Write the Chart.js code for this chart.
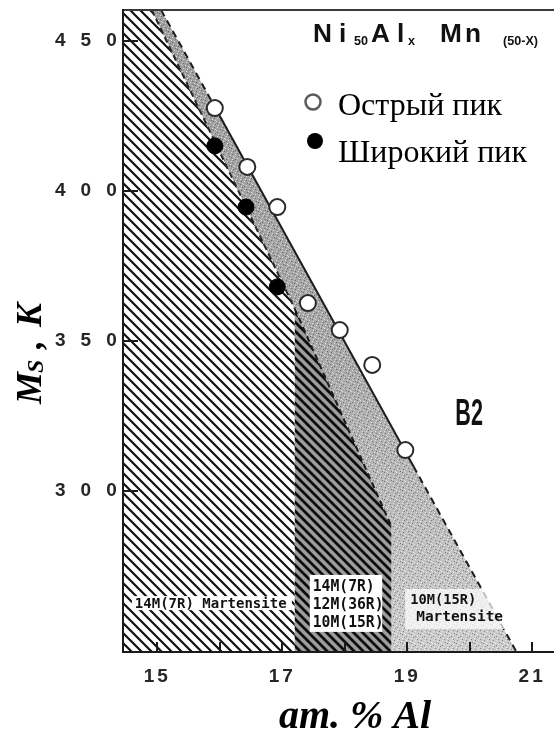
<!DOCTYPE html>
<html>
<head>
<meta charset="utf-8">
<script src="https://cdn.jsdelivr.net/npm/chart.js@4.4.1/dist/chart.umd.min.js"></script>
<style>
  html, body { margin: 0; padding: 0; background: #ffffff; overflow: hidden; }
  canvas { display: block; }
</style>
</head>
<body>
<canvas id="chart" width="554" height="742" style="width:554px;height:742px"></canvas>
<script>
// Martensitic start temperature Ms of Ni50AlxMn(50-x) versus Al content (at. %)

// measured Ms points
const sharpPeak = [
  { x: 15.92, y: 427.6 }, { x: 16.44, y: 408.0 }, { x: 16.92, y: 394.6 },
  { x: 17.41, y: 362.6 }, { x: 17.92, y: 353.6 }, { x: 18.44, y: 342.0 },
  { x: 18.97, y: 313.6 }
];
const broadPeak = [
  { x: 15.92, y: 415.0 }, { x: 16.42, y: 394.6 }, { x: 16.92, y: 368.0 }
];

// phase boundaries
const b2Boundary = [ { x: 15.06, y: 460.3 }, { x: 16.0, y: 425.0 }, { x: 19.1, y: 308.2 }, { x: 20.75, y: 246.3 } ];
const boundary14M = [ { x: 14.91, y: 460.3 }, { x: 17.2, y: 360.7 } ];
const boundaryMixed = [ { x: 17.2, y: 360.7 }, { x: 18.75, y: 288.0 } ];

// phase fields (closed outlines)
const region14M = [
  { x: 14.45, y: 460.3 }, { x: 14.91, y: 460.3 }, { x: 17.2, y: 360.7 },
  { x: 17.2, y: 246.3 }, { x: 14.45, y: 246.3 }, { x: 14.45, y: 460.3 }
];
const regionMixed = [
  { x: 17.2, y: 360.7 }, { x: 18.75, y: 288.0 }, { x: 18.75, y: 246.3 },
  { x: 17.2, y: 246.3 }, { x: 17.2, y: 360.7 }
];
const region10M = [
  { x: 14.91, y: 460.3 }, { x: 15.06, y: 460.3 }, { x: 16.0, y: 425.0 }, { x: 19.1, y: 308.2 },
  { x: 20.75, y: 246.3 }, { x: 18.75, y: 246.3 }, { x: 18.75, y: 288.0 }, { x: 17.2, y: 360.7 },
  { x: 14.91, y: 460.3 }
];

// axes
const xRange = [14.45, 21.35];
const yRange = [246.3, 460.3];
const xTickValues = [15, 16, 17, 18, 19, 20, 21];
const xLabelValues = [15, 17, 19, 21];
const yTickValues = [300, 350, 400, 450];

const canvas = document.getElementById('chart');
const ctx = canvas.getContext('2d');

function hatch(bg, fg, step, width) {
  const c = document.createElement('canvas');
  c.width = step; c.height = step;
  const g = c.getContext('2d');
  if (bg) { g.fillStyle = bg; g.fillRect(0, 0, step, step); }
  g.strokeStyle = fg; g.lineWidth = width; g.lineCap = 'square';
  g.beginPath();
  for (const o of [-step, 0, step]) { g.moveTo(o - 1, -1); g.lineTo(o + step + 1, step + 1); }
  g.stroke();
  return ctx.createPattern(c, 'repeat');
}

function stipple() {
  const c = document.createElement('canvas');
  c.width = 9; c.height = 9;
  const g = c.getContext('2d');
  g.fillStyle = 'rgba(255,255,255,0.6)';
  [[1, 1], [5, 2], [3, 5], [7, 6], [0, 4], [6, 8], [8, 3], [2, 8]].forEach(([px, py]) => g.fillRect(px, py, 1, 1));
  g.fillStyle = 'rgba(30,30,30,0.4)';
  [[3, 0], [6, 4], [1, 6], [4, 3], [8, 7], [7, 1]].forEach(([px, py]) => g.fillRect(px, py, 1, 1));
  return ctx.createPattern(c, 'repeat');
}

const sparseHatch = hatch('#ffffff', '#111111', 10, 2.2);
const denseHatch = hatch('#9c9c9c', '#0d0d0d', 9, 2.8);
const grain = stipple();

function grayShade(context) {
  const area = context.chart.chartArea;
  if (!area) return '#b0b0b0';
  const g = context.chart.ctx.createLinearGradient(0, area.top, 0, area.bottom);
  g.addColorStop(0, '#9e9e9e');
  g.addColorStop(0.55, '#a9a9a9');
  g.addColorStop(0.8, '#bdbdbd');
  g.addColorStop(1, '#cdcdcd');
  return g;
}

const field = (data, bg, order) => ({
  type: 'line', data, fill: 'shape', backgroundColor: bg,
  borderColor: 'rgba(0,0,0,0)', borderWidth: 0, pointRadius: 0, tension: 0, order
});

const serif = '"Liberation Serif", "Times New Roman", serif';
const sans = '"Liberation Sans", Arial, sans-serif';
const mono = '"DejaVu Sans Mono", "Liberation Mono", monospace';

function condensed(c, text, px, py, font, sx) {
  c.save();
  c.font = font;
  c.translate(px, py);
  c.scale(sx, 1);
  c.textAlign = 'left';
  c.textBaseline = 'alphabetic';
  c.fillText(text, 0, 0);
  c.restore();
}

const decor = {
  id: 'decor',
  beforeDraw(chart) {
    chart.ctx.letterSpacing = '3px';
  },
  afterDatasetsDraw(chart) {
    const c = chart.ctx;
    const a = chart.chartArea;
    const sx = chart.scales.x, sy = chart.scales.y;
    c.save();
    c.letterSpacing = '0px';

    // top frame
    c.strokeStyle = '#3a3a3a';
    c.lineWidth = 2;
    c.beginPath(); c.moveTo(a.left, a.top); c.lineTo(a.right, a.top); c.stroke();

    // inward tick marks
    c.strokeStyle = '#1a1a1a';
    c.lineWidth = 2;
    c.beginPath();
    xTickValues.forEach(v => { const p = Math.round(sx.getPixelForValue(v)); c.moveTo(p, a.bottom); c.lineTo(p, a.bottom - 10); });
    yTickValues.forEach(v => { const p = Math.round(sy.getPixelForValue(v)); c.moveTo(a.left, p); c.lineTo(a.left + 15, p); });
    c.stroke();

    // phase field labels
    c.fillStyle = '#ffffff';
    let lx = sx.getPixelForValue(14.64), ly = sy.getPixelForValue(262.6);
    c.fillRect(lx - 3, ly - 7, 160, 14);
    c.fillStyle = '#111111';
    condensed(c, '14M(7R) Martensite', lx, ly + 5, 'bold 14px ' + mono, 1.0);

    const bx0 = sx.getPixelForValue(17.44), bx1 = sx.getPixelForValue(18.6);
    const by0 = sy.getPixelForValue(272.0), by1 = sy.getPixelForValue(253.0);
    c.fillStyle = '#ffffff';
    c.fillRect(bx0, by0, bx1 - bx0, by1 - by0);
    c.fillStyle = '#111111';
    ['14M(7R)', '12M(36R)', '10M(15R)'].forEach((t, i) => {
      condensed(c, t, bx0 + 3, by0 + 16 + i * 18, 'bold 15px ' + mono, 0.98);
    });

    const rx = sx.getPixelForValue(19.0), ry = sy.getPixelForValue(267.3);
    c.fillStyle = 'rgba(255,255,255,0.72)';
    c.fillRect(rx - 2, ry, 106, 40);
    c.fillStyle = '#111111';
    condensed(c, '10M(15R)', rx + 3, ry + 15, 'bold 14px ' + mono, 0.98);
    condensed(c, 'Martensite', rx + 9, ry + 32, 'bold 14px ' + mono, 1.03);

    condensed(c, 'B2', sx.getPixelForValue(19.77), sy.getPixelForValue(322.0), 'bold 36px ' + sans, 0.6);

    // composition title
    const big = 'bold 25px ' + sans, small = 'bold 12px ' + sans;
    [['N', 313, big, 42], ['i', 339, big, 42], ['50', 354, small, 45], ['A', 371, big, 42],
     ['l', 397, big, 42], ['x', 408, small, 45], ['M', 440, big, 42], ['n', 465, big, 42],
     ['(50-X)', 503, small, 45]].forEach(([t, px, f, py]) => condensed(c, t, px, py, f, 1.05));

    // legend
    const sharp = chart.data.datasets[0], broad = chart.data.datasets[1];
    c.beginPath(); c.arc(313, 102, 7.5, 0, Math.PI * 2);
    c.fillStyle = sharp.pointBackgroundColor; c.fill();
    c.lineWidth = 2.5; c.strokeStyle = '#5a5a5a'; c.stroke();
    c.beginPath(); c.arc(315, 141, 8, 0, Math.PI * 2);
    c.fillStyle = broad.pointBackgroundColor; c.fill();
    c.fillStyle = '#000000';
    c.font = '32px ' + serif;
    c.textAlign = 'left'; c.textBaseline = 'alphabetic';
    c.fillText(sharp.label, 338, 115);
    c.fillText(broad.label, 338, 162);

    c.restore();
    // spaced digits on the temperature axis
    c.letterSpacing = '15px';
  },
  afterDraw(chart) {
    const c = chart.ctx;
    c.letterSpacing = '0px';
    c.save();
    c.fillStyle = '#000000';
    c.textBaseline = 'alphabetic';
    c.textAlign = 'left';
    // x axis title
    c.font = 'italic bold 40px ' + serif;
    const xt = 'am. % Al';
    const w = c.measureText(xt).width;
    c.fillText(xt, 355 - w / 2, 728);
    // y axis title (rotated)
    c.translate(41, 0);
    c.rotate(-Math.PI / 2);
    c.font = 'italic bold 36px ' + serif;
    c.fillText('M', -404, 0);
    c.font = 'italic bold 24px ' + serif;
    c.fillText('S', -373, 2);
    c.font = 'italic bold 36px ' + serif;
    c.fillText(',', -349, 0);
    c.fillText('K', -327, 0);
    c.restore();
  }
};

new Chart(ctx, {
  type: 'scatter',
  data: {
    datasets: [
      {
        type: 'scatter', label: 'Острый пик', data: sharpPeak, order: 0,
        pointRadius: 8, pointBackgroundColor: '#ffffff', pointBorderColor: '#2a2a2a', pointBorderWidth: 2
      },
      {
        type: 'scatter', label: 'Широкий пик', data: broadPeak, order: 0,
        pointRadius: 8, pointBackgroundColor: '#000000', pointBorderColor: '#000000', pointBorderWidth: 1
      },
      {
        type: 'line', data: b2Boundary, order: 1, fill: false, pointRadius: 0,
        borderColor: '#1c1c1c', borderWidth: 2,
        segment: { borderDash: s => (s.p0DataIndex === 1 ? [] : [7, 5]) }
      },
      {
        type: 'line', data: boundary14M, order: 1, fill: false, pointRadius: 0,
        borderColor: '#262626', borderWidth: 2, borderDash: [6, 4]
      },
      {
        type: 'line', data: boundaryMixed, order: 1, fill: false, pointRadius: 0,
        borderColor: '#1a1a1a', borderWidth: 2, borderDash: [6, 4]
      },
      field(region10M, grain, 2),
      field(region10M, grayShade, 3),
      field(regionMixed, denseHatch, 4),
      field(region14M, sparseHatch, 5)
    ]
  },
  options: {
    responsive: false,
    animation: false,
    events: [],
    layout: { autoPadding: false, padding: { top: 10, left: 55, right: 0, bottom: 0 } },
    plugins: { legend: { display: false }, tooltip: { enabled: false }, title: { display: false } },
    scales: {
      x: {
        type: 'linear', position: 'bottom', min: xRange[0], max: xRange[1],
        afterBuildTicks: s => { s.ticks = xTickValues.map(v => ({ value: v })); },
        afterFit: s => { s.height = 90; s.paddingLeft = 0; s.paddingRight = 0; },
        grid: { display: false },
        border: { display: true, color: '#1a1a1a', width: 2, z: 1 },
        ticks: {
          autoSkip: false, maxRotation: 0, padding: 5, color: '#262626',
          font: { family: 'Liberation Sans', size: 19, weight: 'bold' },
          callback: v => (xLabelValues.includes(v) ? String(v) : '')
        }
      },
      y: {
        type: 'linear', position: 'left', min: yRange[0], max: yRange[1],
        afterBuildTicks: s => { s.ticks = yTickValues.map(v => ({ value: v })); },
        afterFit: s => { s.width = 68; s.paddingTop = 0; s.paddingBottom = 0; },
        grid: { display: false },
        border: { display: true, color: '#1a1a1a', width: 2, z: 1 },
        ticks: {
          z: 1, crossAlign: 'far', padding: 0, color: '#262626',
          font: { family: 'Liberation Sans', size: 19, weight: 'bold' },
          callback: v => String(v)
        }
      }
    }
  },
  plugins: [decor]
});
</script>
</body>
</html>
